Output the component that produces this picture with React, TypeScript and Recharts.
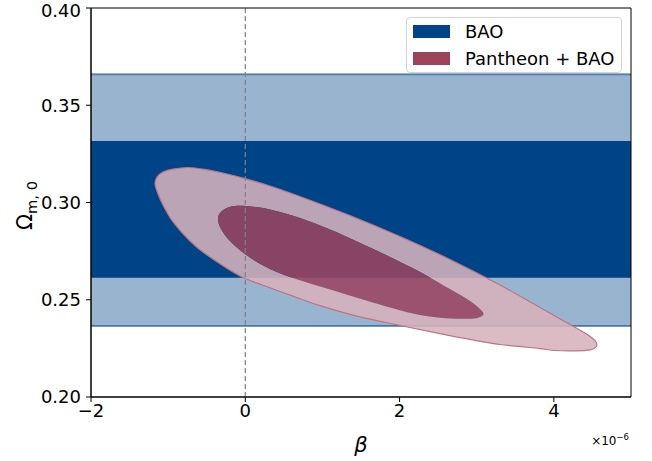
import {
  ComposedChart,
  Scatter,
  XAxis,
  YAxis,
  ReferenceArea,
  ReferenceLine,
  Legend,
} from "recharts";

const betaTicks = [-2, 0, 2, 4];
const omegaTicks = [0.2, 0.25, 0.3, 0.35, 0.4];
const betaRange = [-2, 5];
const omegaRange = [0.2, 0.4];

// BAO alone: 1 sigma and 2 sigma bands on Omega_m,0
const bao1Sigma = [0.2613, 0.3316];
const bao2Sigma = [0.2365, 0.366];

// Pantheon + BAO contours (beta in units of 1e-6), traced clockwise from the left tip
const outerBeta = [
  -1.17, -1.144, -1.067, -0.937, -0.743, -0.522, -0.263, -0.004, 0.32, 0.709,
  1.357, 2.006, 2.654, 3.302, 3.82, 4.209, 4.443, 4.546, 4.546, 4.469, 4.274,
  4.015, 3.82, 3.302, 2.913, 2.524, 2.006, 1.448, 0.969, 0.58, 0.256, -0.068,
  -0.496, -0.717, -0.937, -1.067, -1.131,
];
const outerOmega = [
  0.3095, 0.3131, 0.3157, 0.3172, 0.318, 0.317, 0.3149, 0.3123, 0.3085,
  0.3031, 0.2933, 0.2825, 0.2707, 0.2576, 0.246, 0.2373, 0.2319, 0.2283,
  0.2257, 0.2242, 0.2237, 0.2239, 0.2249, 0.227, 0.2296, 0.2326, 0.2368,
  0.2416, 0.247, 0.2524, 0.2571, 0.2622, 0.273, 0.2802, 0.29, 0.2987, 0.3044,
];
const innerBeta = [
  -0.354, -0.315, -0.185, 0.009, 0.32, 0.709, 1.098, 1.448, 1.876, 2.265,
  2.654, 2.913, 3.056, 3.082, 2.965, 2.654, 2.265, 1.876, 1.228, 0.58, 0.256,
  -0.004, -0.198, -0.315,
];
const innerOmega = [
  0.2915, 0.2951, 0.2979, 0.2982, 0.2964, 0.292, 0.2861, 0.28, 0.272, 0.2643,
  0.2555, 0.2494, 0.2447, 0.2422, 0.2404, 0.2404, 0.2422, 0.246, 0.2537,
  0.2617, 0.2671, 0.2735, 0.2802, 0.2864,
];

const FONT = "DejaVu Sans, sans-serif";
const BLUE = "#004488";

const zip = (xs: number[], ys: number[]) =>
  xs.map((x, i) => ({ beta: x, omega: ys[i] }));
const outerRing = zip(outerBeta, outerOmega);
const innerRing = zip(innerBeta, innerOmega);

type Pt = { x: number; y: number };

// closed catmull-rom through the traced points so the contour edge is smooth
const ringPath = (pts: Pt[]) => {
  const n = pts.length;
  let d = `M${pts[0].x},${pts[0].y}`;
  for (let i = 0; i < n; i++) {
    const p0 = pts[(i - 1 + n) % n];
    const p1 = pts[i];
    const p2 = pts[(i + 1) % n];
    const p3 = pts[(i + 2) % n];
    const c1x = p1.x + (p2.x - p0.x) / 6;
    const c1y = p1.y + (p2.y - p0.y) / 6;
    const c2x = p2.x - (p3.x - p1.x) / 6;
    const c2y = p2.y - (p3.y - p1.y) / 6;
    d += `C${c1x},${c1y} ${c2x},${c2y} ${p2.x},${p2.y}`;
  }
  return d + "Z";
};

// outer contour is a ring: outer edge with the inner contour cut out
const outerShape = (props: any) => {
  const pts: Pt[] = props.points;
  const edge = pts.slice(0, outerRing.length);
  const hole = pts.slice(outerRing.length);
  return (
    <g>
      <path
        d={ringPath(edge) + ringPath(hole)}
        fill="#d7b2bb"
        fillOpacity={0.87}
        fillRule="evenodd"
        stroke="none"
      />
      <path d={ringPath(edge)} fill="none" stroke="#b97586" strokeWidth={1.2} />
    </g>
  );
};

const innerShape = (props: any) => (
  <path
    d={ringPath(props.points)}
    fill="#9b445f"
    fillOpacity={0.87}
    stroke="none"
  />
);

const noDot = () => <g />;

const fmtBeta = (v: number) => (v < 0 ? `\u2212${-v}` : `${v}`);

const OmegaLabel = ({ viewBox }: any) => (
  <text
    transform={`translate(32, ${viewBox.y + viewBox.height / 2 + 3}) rotate(-90)`}
    textAnchor="middle"
    fontSize={21}
    fontFamily={FONT}
    fill="#000"
  >
    Ω
    <tspan fontSize={14.7} dy={5}>
      m, 0
    </tspan>
  </text>
);

const BetaLabel = ({ viewBox }: any) => (
  <g fontFamily={FONT} fill="#000">
    <text
      x={viewBox.x + viewBox.width / 2}
      y={viewBox.y + 55}
      textAnchor="middle"
      fontSize={21}
      fontStyle="italic"
    >
      β
    </text>
    <text
      x={viewBox.x + viewBox.width - 2}
      y={viewBox.y + 48}
      textAnchor="end"
      fontSize={12}
    >
      ×10
      <tspan fontSize={8.5} dy={-5}>
        −6
      </tspan>
    </text>
  </g>
);

const LegendBox = () => (
  <div
    style={{
      width: 216,
      height: 56,
      boxSizing: "border-box",
      border: "1px solid #d4d4d4",
      borderRadius: 4,
      background: "rgba(255,255,255,0.8)",
    }}
  >
    <svg width={214} height={54} style={{ display: "block" }}>
      <rect x={6} y={7} width={37} height={13} fill={BLUE} />
      <text x={58} y={20} fontSize={18} fontFamily={FONT} fill="#000">
        BAO
      </text>
      <rect x={6} y={34} width={37} height={13} fill="#9c4259" />
      <text x={58} y={47} fontSize={18} fontFamily={FONT} fill="#000">
        Pantheon + BAO
      </text>
    </svg>
  </div>
);

export default function App() {
  return (
    <div style={{ width: 652, height: 461 }}>
      <style>{"body{margin:0}"}</style>
      <ComposedChart
        width={652}
        height={461}
        margin={{ top: 8, right: 21, bottom: 0, left: 0 }}
      >
        <XAxis
          dataKey="beta"
          type="number"
          domain={betaRange}
          ticks={betaTicks}
          tickFormatter={fmtBeta}
          allowDataOverflow
          height={64}
          stroke="#000"
          tickSize={5}
          tickMargin={2}
          tick={{ fontSize: 18, fill: "#000", fontFamily: FONT }}
          label={BetaLabel}
        />
        <YAxis
          dataKey="omega"
          type="number"
          domain={omegaRange}
          ticks={omegaTicks}
          tickFormatter={(v: number) => v.toFixed(2)}
          allowDataOverflow
          width={91}
          stroke="#000"
          tickSize={5}
          tickMargin={5}
          tick={{ fontSize: 18, fill: "#000", fontFamily: FONT }}
          label={OmegaLabel}
        />
        <ReferenceArea
          y1={bao2Sigma[0]}
          y2={bao2Sigma[1]}
          fill={BLUE}
          fillOpacity={0.4}
          stroke="none"
        />
        <ReferenceArea
          y1={bao1Sigma[0]}
          y2={bao1Sigma[1]}
          fill={BLUE}
          fillOpacity={1}
          stroke="none"
        />
        <ReferenceLine
          y={bao2Sigma[0]}
          stroke={BLUE}
          strokeOpacity={0.55}
          strokeWidth={2}
        />
        <ReferenceLine
          y={bao2Sigma[1]}
          stroke={BLUE}
          strokeOpacity={0.55}
          strokeWidth={2}
        />
        <Scatter
          data={[...outerRing, ...innerRing]}
          line={outerShape}
          shape={noDot}
          isAnimationActive={false}
        />
        <Scatter
          data={innerRing}
          line={innerShape}
          shape={noDot}
          isAnimationActive={false}
        />
        <ReferenceLine
          x={0}
          stroke="#808080"
          strokeWidth={1.2}
          strokeDasharray="5 3"
          zIndex={700}
        />
        {/* plot frame */}
        <ReferenceArea
          x1={betaRange[0]}
          x2={betaRange[1]}
          y1={omegaRange[0]}
          y2={omegaRange[1]}
          fill="none"
          stroke="#000"
          strokeWidth={1}
          zIndex={800}
        />
        <Legend
          layout="vertical"
          align="center"
          verticalAlign="middle"
          wrapperStyle={{ top: 17, left: 406, width: 216, height: 56 }}
          content={LegendBox}
        />
      </ComposedChart>
    </div>
  );
}
